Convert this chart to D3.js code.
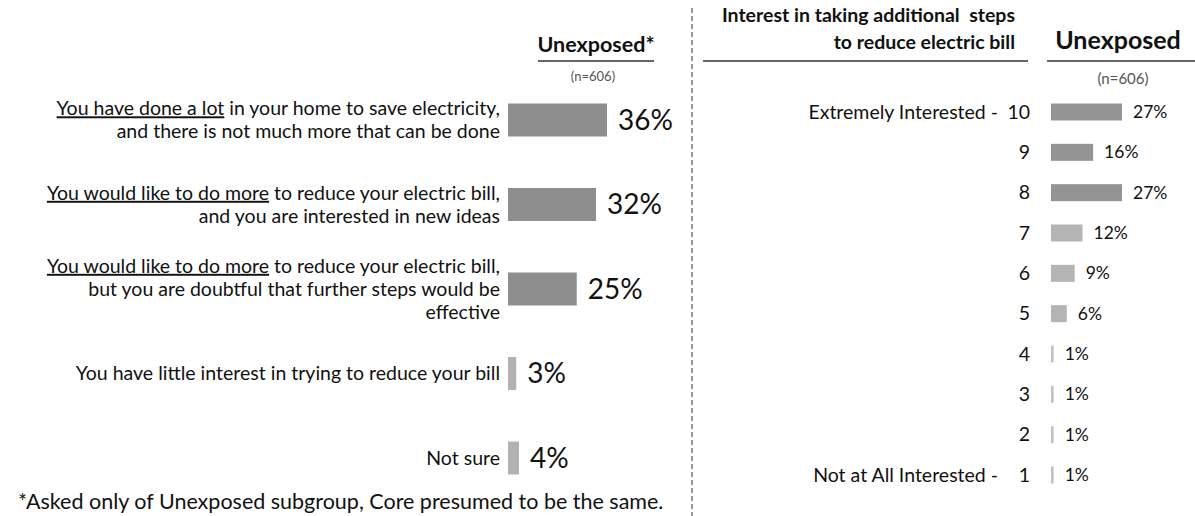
<!DOCTYPE html>
<html>
<head>
<meta charset="utf-8">
<script src="https://cdn.jsdelivr.net/npm/d3@7"></script>
<style>
  body { margin: 0; background: #fff; }
  svg { display: block; }
  text { font-family: Lato, "Open Sans", sans-serif; fill: #111; }
</style>
</head>
<body>
<svg id="chart" width="1195" height="516"></svg>
<script>
// left panel: "|" splits lines, "_..._" marks underlined words
var statements = [
  "_You have done a lot_ in your home to save electricity,|and there is not much more that can be done",
  "_You would like to do more_ to reduce your electric bill,|and you are interested in new ideas",
  "_You would like to do more_ to reduce your electric bill,|but you are doubtful that further steps would be|effective",
  "You have little interest in trying to reduce your bill",
  "Not sure"
];
var statementValues = [36, 32, 25, 3, 4];
var statementShades = ["#8e8e8e", "#8e8e8e", "#8e8e8e", "#b2b2b2", "#b2b2b2"];

// right panel
var scores = ["10", "9", "8", "7", "6", "5", "4", "3", "2", "1"];
var scoreAnchors = ["Extremely Interested -", "", "", "", "", "", "", "", "", "Not at All Interested -"];
var scoreValues = [27, 16, 27, 12, 9, 6, 1, 1, 1, 1];
var scoreShades = ["#939393", "#939393", "#939393", "#b4b4b4", "#b4b4b4", "#b4b4b4", "#c2c2c2", "#c2c2c2", "#c2c2c2", "#c2c2c2"];

var leftTitle = "Unexposed*";
var rightTitle = "Unexposed";
var sampleSize = "(n=606)";
var rightHeading = ["Interest in taking additional  steps", "to reduce electric bill"];
var footnote = "*Asked only of Unexposed subgroup, Core presumed to be the same.";

var svg = d3.select("#chart");

var drawLeft = function () {
  var y = d3.scalePoint().domain(d3.range(statements.length)).range([120, 458]);
  var x = d3.scaleLinear().domain([0, 100]).range([508, 783]);
  var barH = 33;
  var g = svg.append("g");

  g.append("text").attr("x", 596).attr("y", 52)
    .attr("text-anchor", "middle").style("font-weight", 700).style("font-size", "21.5px")
    .text(leftTitle);
  g.append("line").attr("x1", 538).attr("x2", 654).attr("y1", 61).attr("y2", 61)
    .attr("stroke", "#333").attr("stroke-width", 1.5);
  g.append("text").attr("x", 593).attr("y", 81)
    .attr("text-anchor", "middle").style("font-size", "13px").style("fill", "#555")
    .text(sampleSize);

  g.selectAll("rect.bar").data(statementValues).enter().append("rect")
    .attr("class", "bar")
    .attr("x", x(0))
    .attr("y", function (d, i) { return y(i) - barH / 2; })
    .attr("width", function (d) { return x(d) - x(0); })
    .attr("height", barH)
    .attr("fill", function (d, i) { return statementShades[i]; });

  g.selectAll("text.val").data(statementValues).enter().append("text")
    .attr("class", "val")
    .attr("x", function (d) { return x(d) + 11; })
    .attr("y", function (d, i) { return y(i); })
    .attr("dy", "0.35em")
    .style("font-size", "28px")
    .text(function (d) { return d + "%"; });

  var lineH = 23;
  statements.forEach(function (s, i) {
    var lines = s.split("|");
    var t = g.append("text").attr("text-anchor", "end").style("font-size", "19.5px");
    lines.forEach(function (line, j) {
      var yy = y(i) + (j - (lines.length - 1) / 2) * lineH;
      var parts = line.split("_");
      parts.forEach(function (p, k) {
        if (!p) { return; }
        var ts = t.append("tspan").text(p);
        if (k === 0 || (k === 1 && parts[0] === "")) {
          ts.attr("x", 500).attr("y", yy).attr("dy", "0.35em");
        }
        if (k % 2 === 1) { ts.style("text-decoration", "underline"); }
      });
    });
  });

  g.append("text").attr("x", 18).attr("y", 501).attr("dy", "0.35em")
    .style("font-size", "21.5px").text(footnote);
};

var drawRight = function () {
  var y = d3.scalePoint().domain(scores).range([112, 475]);
  var x = d3.scaleLinear().domain([0, 100]).range([1051, 1314]);
  var barH = 17;
  var g = svg.append("g");

  g.selectAll("text.head").data(rightHeading).enter().append("text")
    .attr("class", "head")
    .attr("x", 1015).attr("y", function (d, i) { return 22 + i * 27; })
    .attr("text-anchor", "end").style("font-weight", 700).style("font-size", "19.5px")
    .style("white-space", "pre")
    .text(function (d) { return d; });
  g.append("line").attr("x1", 703).attr("x2", 1028).attr("y1", 61).attr("y2", 61)
    .attr("stroke", "#333").attr("stroke-width", 1.5);

  g.append("text").attr("x", 1118).attr("y", 49)
    .attr("text-anchor", "middle").style("font-weight", 700).style("font-size", "25px")
    .text(rightTitle);
  g.append("line").attr("x1", 1047).attr("x2", 1195).attr("y1", 61).attr("y2", 61)
    .attr("stroke", "#333").attr("stroke-width", 1.5);
  g.append("text").attr("x", 1123).attr("y", 84)
    .attr("text-anchor", "middle").style("font-size", "15px").style("fill", "#555")
    .text(sampleSize);

  g.selectAll("rect.bar").data(scoreValues).enter().append("rect")
    .attr("class", "bar")
    .attr("x", x(0))
    .attr("y", function (d, i) { return y(scores[i]) - barH / 2; })
    .attr("width", function (d) { return Math.max(2.5, x(d) - x(0)); })
    .attr("height", barH)
    .attr("fill", function (d, i) { return scoreShades[i]; });

  g.selectAll("text.val").data(scoreValues).enter().append("text")
    .attr("class", "val")
    .attr("x", function (d) { return Math.max(x(d), x(0) + 2.5) + 11; })
    .attr("y", function (d, i) { return y(scores[i]); })
    .attr("dy", "0.35em")
    .style("font-size", "17.5px")
    .text(function (d) { return d + "%"; });

  g.selectAll("text.score").data(scores).enter().append("text")
    .attr("class", "score")
    .attr("x", 1030)
    .attr("y", function (d) { return y(d); })
    .attr("dy", "0.35em").attr("text-anchor", "end")
    .style("font-size", "19.5px")
    .text(function (d) { return d; });

  g.selectAll("text.anchor").data(scoreAnchors).enter().append("text")
    .attr("class", "anchor")
    .attr("x", 998)
    .attr("y", function (d, i) { return y(scores[i]); })
    .attr("dy", "0.35em").attr("text-anchor", "end")
    .style("font-size", "19.5px")
    .text(function (d) { return d; });
};

// dashed divider between the two panels
svg.append("line").attr("x1", 692).attr("x2", 692).attr("y1", 8).attr("y2", 516)
  .attr("stroke", "#333").attr("stroke-width", 1).attr("stroke-dasharray", "5,3");

drawLeft();
drawRight();
</script>
</body>
</html>
